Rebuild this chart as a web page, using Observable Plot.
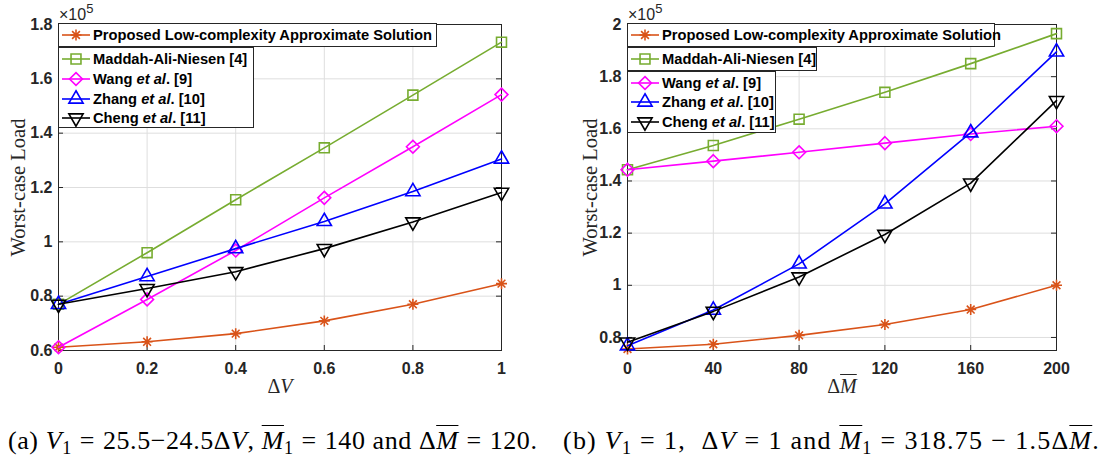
<!DOCTYPE html>
<html><head><meta charset="utf-8">
<script src="https://cdn.jsdelivr.net/npm/d3@7"></script>
<script src="https://cdn.jsdelivr.net/npm/@observablehq/plot@0.6"></script>
<style>
body{margin:0;background:#fff;width:1107px;height:465px;position:relative;overflow:hidden;font-family:"Liberation Sans",Arial,sans-serif;}
.panel{position:absolute;top:0;}
.panel svg{overflow:visible;display:block}
g[aria-label="y-axis label"] text{font-family:"Liberation Serif","DejaVu Serif",serif;font-weight:normal;font-size:20.5px;fill:#262626;}
.box{position:absolute;border:1px solid #262626;background:#fff;box-sizing:border-box;}
.row{position:absolute;height:20px;display:flex;align-items:center;font-weight:bold;font-size:14.7px;color:#000;white-space:nowrap;}
.row svg{flex:none;margin-right:3px}
.exp{position:absolute;font-size:16px;line-height:16px;color:#262626;white-space:nowrap;}
.exp sup{font-size:13px;vertical-align:baseline;position:relative;top:-7px;}
.xl{position:absolute;width:120px;text-align:center;font-family:"Liberation Serif","DejaVu Serif",serif;font-size:20px;line-height:22px;color:#262626;}
.cap{position:absolute;font-family:"Liberation Serif","DejaVu Serif",serif;font-size:26px;line-height:30px;color:#000;white-space:nowrap;}
.ov{text-decoration:overline;text-decoration-thickness:1px;}
.cap sub{font-size:18px;vertical-align:baseline;position:relative;top:5px;}
.eq{margin:0 8px;}
</style></head>
<body>
<script>
// ---------- data (values ×10^5) ----------
const xA = [0, 0.2, 0.4, 0.6, 0.8, 1];
const proposedA = [0.612, 0.632, 0.662, 0.709, 0.770, 0.846];
const maddahA   = [0.770, 0.960, 1.155, 1.346, 1.540, 1.735];
const wangA     = [0.612, 0.788, 0.968, 1.162, 1.350, 1.542];
const zhangA    = [0.770, 0.872, 0.975, 1.075, 1.185, 1.305];
const chengA    = [0.770, 0.828, 0.890, 0.975, 1.073, 1.182];

const xB = [0, 40, 80, 120, 160, 200];
const proposedB = [0.756, 0.774, 0.808, 0.850, 0.907, 1.000];
const maddahB   = [1.443, 1.536, 1.637, 1.740, 1.850, 1.965];
const wangB     = [1.443, 1.476, 1.510, 1.545, 1.580, 1.610];
const zhangB    = [0.768, 0.905, 1.082, 1.312, 1.585, 1.895];
const chengB    = [0.782, 0.900, 1.032, 1.195, 1.392, 1.708];

const xTicksA = [0, 0.2, 0.4, 0.6, 0.8, 1];
const yTicksA = [0.6, 0.8, 1, 1.2, 1.4, 1.6, 1.8];
const xTicksB = [0, 40, 80, 120, 160, 200];
const yTicksB = [0.8, 1, 1.2, 1.4, 1.6, 1.8, 2];

const seriesNames = ["Proposed Low-complexity Approximate Solution", "Maddah-Ali-Niesen [4]", "Wang <i>et al</i>. [9]", "Zhang <i>et al</i>. [10]", "Cheng <i>et al</i>. [11]"];

// ---------- styles ----------
const asterisk8 = {draw(ctx, size){ const r = Math.sqrt(size/Math.PI); const d = r*Math.SQRT1_2;
  ctx.moveTo(-r,0); ctx.lineTo(r,0); ctx.moveTo(0,-r); ctx.lineTo(0,r);
  ctx.moveTo(-d,-d); ctx.lineTo(d,d); ctx.moveTo(-d,d); ctx.lineTo(d,-d);}};
const styles = [
  {color:"#D95319", symbol: asterisk8, r:5.5, rotate:0},
  {color:"#77AC30", symbol: d3.symbolSquare, r:5.6, rotate:0},
  {color:"#FF00FF", symbol: d3.symbolDiamond2, r:5.8, rotate:0},
  {color:"#0000FF", symbol: d3.symbolTriangle2, r:6.8, rotate:0},
  {color:"#000000", symbol: d3.symbolTriangle2, r:6.8, rotate:180}
];

function panel(left, width, x, ys, xTicks, yTicks, xDomain, yDomain, mL, mR, labelOffset) {
  const height = 400, mT = 24, mB = 50;
  const fw = width - mL - mR, fh = height - mT - mB;
  const marks = [
    Plot.gridX(xTicks, {stroke:"#dedede", strokeOpacity:1}),
    Plot.gridY(yTicks, {stroke:"#dedede", strokeOpacity:1}),
    Plot.tickY(yTicks, {y:d=>d, stroke:"#262626", insetRight: fw-5}),
    Plot.tickY(yTicks, {y:d=>d, stroke:"#262626", insetLeft: fw-5}),
    Plot.tickX(xTicks, {x:d=>d, stroke:"#262626", insetTop: fh-5}),
    Plot.tickX(xTicks, {x:d=>d, stroke:"#262626", insetBottom: fh-5}),
    Plot.frame({stroke:"#262626", strokeWidth:1}),
    Plot.axisX({ticks: xTicks, tickSize:0, tickPadding:12, tickFormat: d3.format("~g"), label:null, fill:"#262626"}),
    Plot.axisY({ticks: yTicks, tickSize:0, tickPadding:6, tickFormat: d3.format("~g"), label:"Worst-case Load", labelAnchor:"center", labelOffset, labelArrow:"none", fill:"#262626"})
  ];
  ys.forEach((vals, i) => {
    const st = styles[i];
    const rows = vals.map((v, j) => ({x: x[j], y: v}));
    marks.push(Plot.line(rows, {x:"x", y:"y", stroke: st.color, strokeWidth:1.6}));
    marks.push(Plot.dot(rows, {x:"x", y:"y", symbol: st.symbol, r: st.r, stroke: st.color, fill:"none", strokeWidth:1.6, rotate: st.rotate}));
  });
  const svg = Plot.plot({
    width, height, marginLeft: mL, marginRight: mR, marginTop: mT, marginBottom: mB,
    x: {domain: xDomain}, y: {domain: yDomain},
    style: {fontFamily:"'Liberation Sans', Arial, sans-serif", fontWeight:"bold", fontSize:"16px", color:"#262626", background:"transparent", overflow:"visible"},
    marks
  });
  const div = document.createElement("div");
  div.className = "panel"; div.style.left = left + "px";
  div.appendChild(svg);
  document.body.appendChild(div);
}

panel(0, 540, xA, [proposedA, maddahA, wangA, zhangA, chengA], xTicksA, yTicksA, [0, 1], [0.6, 1.8], 58, 39, 48);
panel(550, 557, xB, [proposedB, maddahB, wangB, zhangB, chengB], xTicksB, yTicksB, [0, 200], [0.75, 2.0], 77, 51, 45);

// ---------- legends ----------
function legend(boxes) {
  boxes.forEach(b => {
    const box = document.createElement("div");
    box.className = "box";
    Object.assign(box.style, {left:b.left+"px", top:b.top+"px", width:b.width+"px", height:b.height+"px"});
    document.body.appendChild(box);
    b.items.forEach(([si, cy]) => {
      const st = styles[si];
      const row = document.createElement("div");
      row.className = "row";
      row.style.left = (b.left + 4) + "px";
      row.style.top = (cy - 10) + "px";
      const path = d3.symbol(st.symbol, st.r*st.r*Math.PI)();
      row.innerHTML = `<svg width="28" height="20"><line x1="0" x2="28" y1="10" y2="10" stroke="${st.color}" stroke-width="1.6"/><path d="${path}" transform="translate(14,10) rotate(${st.rotate})" fill="none" stroke="${st.color}" stroke-width="1.6"/></svg><span>${seriesNames[si]}</span>`;
      document.body.appendChild(row);
    });
  });
}
legend([
  {left:58, top:23, width:379, height:24, items:[[0, 35]]},
  {left:58, top:47, width:196, height:81, items:[[1, 59.3],[2, 79],[3, 98.5],[4, 118.3]]},
  {left:627, top:23, width:368, height:24, items:[[0, 35]]},
  {left:627, top:47, width:190, height:24, items:[[1, 59.3]]},
  {left:627, top:71, width:149, height:62, items:[[2, 82.7],[3, 101.7],[4, 121.7]]}
]);

// ---------- other texts ----------
function addHTML(cls, left, top, html) {
  const d = document.createElement("div");
  d.className = cls; d.style.left = left + "px"; d.style.top = top + "px";
  d.innerHTML = html; document.body.appendChild(d);
  return d;
}
function fitWidth(el, target) {
  const n = el.textContent.length;
  const w = el.getBoundingClientRect().width;
  el.style.letterSpacing = ((target - w) / n) + "px";
}
addHTML("exp", 59, 7, "×10<sup>5</sup>");
addHTML("exp", 628, 7, "×10<sup>5</sup>");
addHTML("xl", 220, 375, "Δ<i>V</i>");
addHTML("xl", 782, 375, "Δ<span class='ov'><i>M</i></span>");
const capA = addHTML("cap", 8, 426, "(a) <i>V</i><sub>1</sub><span class='eq'>=</span>25.5−24.5Δ<i>V</i>,  <span class='ov'><i>M</i></span><sub>1</sub><span class='eq'>=</span>140 and Δ<span class='ov'><i>M</i></span><span class='eq'>=</span>120.");
const capB = addHTML("cap", 563, 426, "(b) <i>V</i><sub>1</sub><span class='eq'>=</span>1, &nbsp;Δ<i>V</i><span class='eq'>=</span>1 and <span class='ov'><i>M</i></span><sub>1</sub><span class='eq'>=</span>318.75<span class='eq'>−</span>1.5Δ<span class='ov'><i>M</i></span>.");
fitWidth(capA, 530);
fitWidth(capB, 537);
</script>
</body></html>
